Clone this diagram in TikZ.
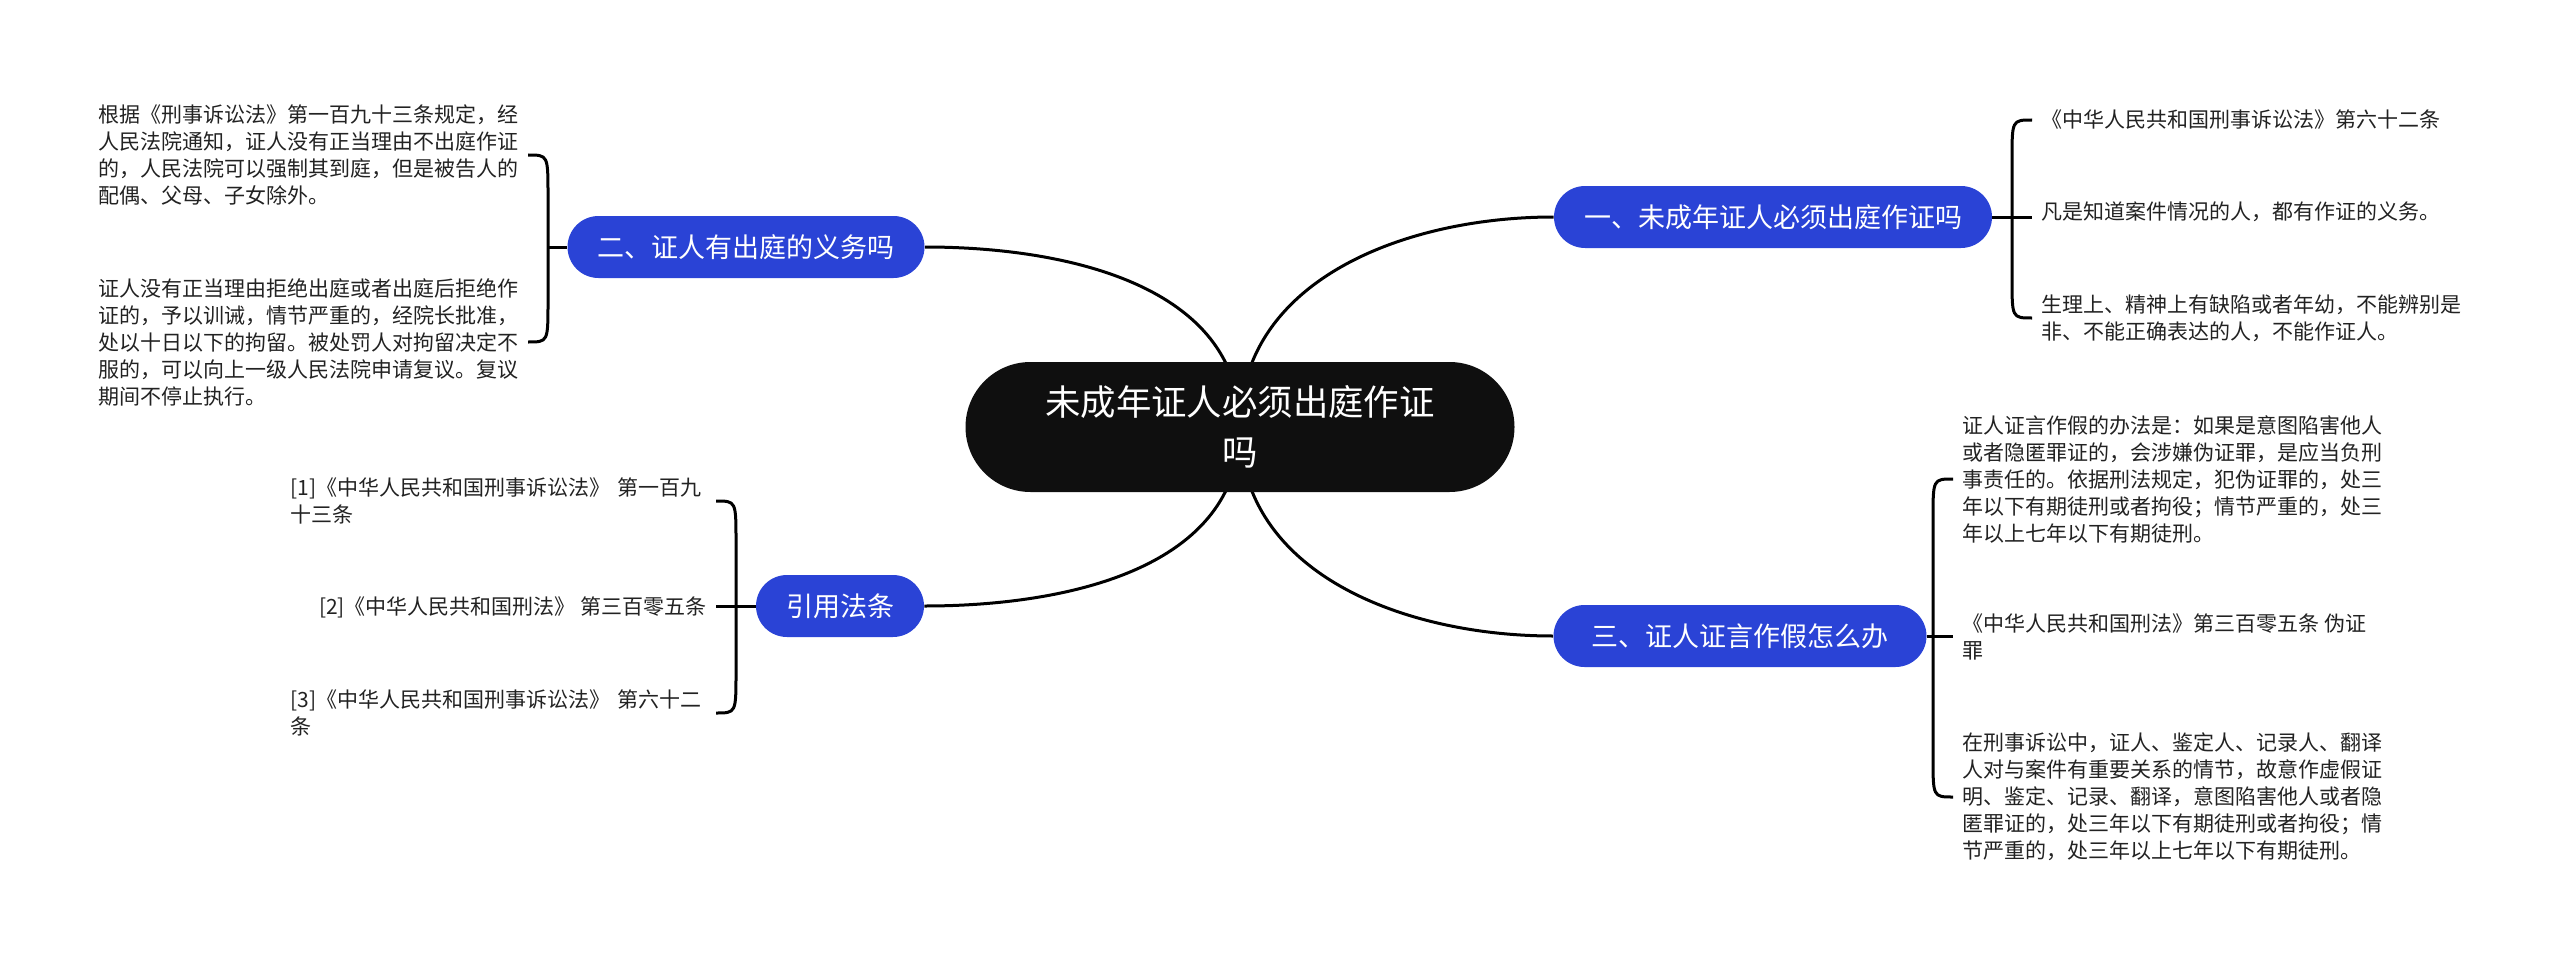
\documentclass[tikz,border=0pt]{standalone}
\usepackage{fontspec}
\setmainfont{Noto Sans CJK SC}
\usepackage{xcolor}
\definecolor{cRoot}{HTML}{0F0F0F}
\definecolor{cTopic}{HTML}{2A43D6}
\definecolor{cInk}{HTML}{222222}
\usepackage{tikz}
\usetikzlibrary{positioning,backgrounds}

\begin{document}
\begin{tikzpicture}[x=0.5pt,y=-0.5pt,
  root/.style={fill=cRoot,text=white,rounded corners=32.5pt,minimum height=65pt,
    text width=200pt,align=center,inner xsep=37.25pt,
    font=\fontsize{17.7}{25}\selectfont},
  topic/.style={fill=cTopic,text=white,rounded corners=15.5pt,minimum height=31pt,
    inner xsep=15pt,font=\fontsize{13.5}{16}\selectfont},
  leaf/.style={text=cInk,align=left,inner sep=4.5pt,font=\fontsize{10.5}{13.5}\selectfont},
  conn/.style={black,line width=1.5pt},
  brk/.style={black,line width=1.5pt}]
\useasboundingbox (0,0) rectangle (2560,963);
\node[root] (root) at (1240,427) {未成年证人必须出庭作证\\吗};
\node[topic] (b1) at (1773,217) {一、未成年证人必须出庭作证吗};
\node[topic] (b2) at (746,247) {二、证人有出庭的义务吗};
\node[topic,minimum width=186.5pt] (b3) at (1740,636) {三、证人证言作假怎么办};
\node[topic] (bR) at (840,606) {引用法条};
% leaves
\node[leaf,anchor=west] (A) at (2032,120) {《中华人民共和国刑事诉讼法》第六十二条};
\node[leaf,anchor=west] (B) at (2032,212) {凡是知道案件情况的人，都有作证的义务。};
\node[leaf,anchor=west] (C) at (2032,318) {生理上、精神上有缺陷或者年幼，不能辨别是\\非、不能正确表达的人，不能作证人。};
\node[leaf,anchor=east] (L1) at (528,155) {根据《刑事诉讼法》第一百九十三条规定，经\\人民法院通知，证人没有正当理由不出庭作证\\的，人民法院可以强制其到庭，但是被告人的\\配偶、父母、子女除外。};
\node[leaf,anchor=east] (L2) at (528,342) {证人没有正当理由拒绝出庭或者出庭后拒绝作\\证的，予以训诫，情节严重的，经院长批准，\\处以十日以下的拘留。被处罚人对拘留决定不\\服的，可以向上一级人民法院申请复议。复议\\期间不停止执行。};
\node[leaf,anchor=west] (D) at (1953,479) {证人证言作假的办法是：如果是意图陷害他人\\或者隐匿罪证的，会涉嫌伪证罪，是应当负刑\\事责任的。依据刑法规定，犯伪证罪的，处三\\年以下有期徒刑或者拘役；情节严重的，处三\\年以上七年以下有期徒刑。};
\node[leaf,anchor=west] (E) at (1953,637) {《中华人民共和国刑法》第三百零五条 伪证\\罪};
\node[leaf,anchor=west] (F) at (1953,797) {在刑事诉讼中，证人、鉴定人、记录人、翻译\\人对与案件有重要关系的情节，故意作虚假证\\明、鉴定、记录、翻译，意图陷害他人或者隐\\匿罪证的，处三年以下有期徒刑或者拘役；情\\节严重的，处三年以上七年以下有期徒刑。};
\node[leaf,anchor=east,text width=208pt] (R1) at (716,501) {[1]《中华人民共和国刑事诉讼法》 第一百九\\十三条};
\node[leaf,anchor=east] (R2) at (716,607) {[2]《中华人民共和国刑法》 第三百零五条};
\node[leaf,anchor=east,text width=208pt] (R3) at (716,713) {[3]《中华人民共和国刑事诉讼法》 第六十二\\条};
% root to topics
\begin{scope}[on background layer]
\draw[conn] (root.center) to[out=90,in=180] (b1.west);
\draw[conn] (root.center) to[out=90,in=0] (b2.east);
\draw[conn] (root.center) to[out=-90,in=180] (b3.west);
\draw[conn] (root.center) to[out=-90,in=0] (bR.east);
\end{scope}
% brackets
\draw[brk] (b1.east) -- (b1.east -| B.west);
\draw[brk] (A.west) .. controls ([xshift=-10pt]A.west) .. ([xshift=-10pt,yshift=-20pt]A.west)
  -- ([xshift=-10pt,yshift=20pt]C.west) .. controls ([xshift=-10pt]C.west) .. (C.west);
\draw[brk] (b2.west) -- +(-10pt,0);
\draw[brk] (L1.east) .. controls ([xshift=10pt]L1.east) .. ([xshift=10pt,yshift=-20pt]L1.east)
  -- ([xshift=10pt,yshift=20pt]L2.east) .. controls ([xshift=10pt]L2.east) .. (L2.east);
\draw[brk] (b3.east) -- (b3.east -| E.west);
\draw[brk] (D.west) .. controls ([xshift=-10pt]D.west) .. ([xshift=-10pt,yshift=-20pt]D.west)
  -- ([xshift=-10pt,yshift=20pt]F.west) .. controls ([xshift=-10pt]F.west) .. (F.west);
\draw[brk] (bR.west) -- (bR.west -| R2.east);
\draw[brk] (R1.east) .. controls ([xshift=10pt]R1.east) .. ([xshift=10pt,yshift=-20pt]R1.east)
  -- ([xshift=10pt,yshift=20pt]R3.east) .. controls ([xshift=10pt]R3.east) .. (R3.east);
\end{tikzpicture}
\end{document}
